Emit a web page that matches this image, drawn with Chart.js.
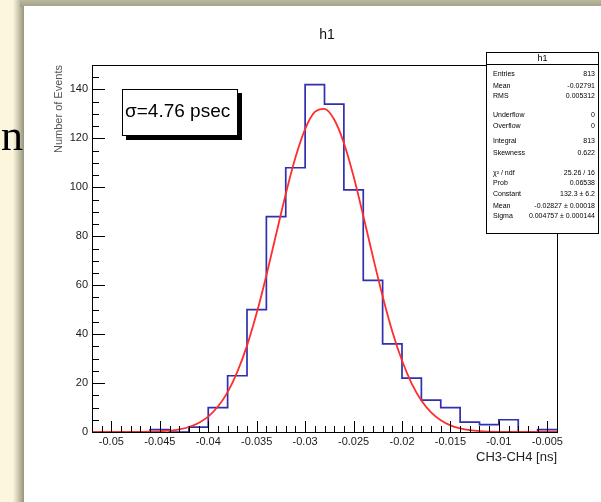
<!DOCTYPE html>
<html>
<head>
<meta charset="utf-8">
<script src="https://cdn.jsdelivr.net/npm/chart.js@4.4.1/dist/chart.umd.min.js"></script>
<style>
html,body{margin:0;padding:0;background:#fbf6dc;overflow:hidden;}
#c{display:block;}
</style>
</head>
<body>
<canvas id="c" width="601" height="502"></canvas>
<script>
// ---- data ----
const binEdges = [-0.052,-0.050,-0.048,-0.046,-0.044,-0.042,-0.040,-0.038,-0.036,-0.034,-0.032,-0.030,-0.028,-0.026,-0.024,-0.022,-0.020,-0.018,-0.016,-0.014,-0.012,-0.010,-0.008,-0.006,-0.004];
const binCounts = [0,0,0,1,0,2,10,23,50,88,108,142,134,99,62,36,22,13,10,4,3,5,0,1];

const fitX = [-0.052,-0.050,-0.048,-0.046,-0.045,-0.044,-0.043,-0.042,-0.041,-0.040,-0.039,-0.038,-0.037,-0.036,-0.035,-0.034,-0.033,-0.032,-0.031,-0.030,-0.029,-0.028,-0.027,-0.026,-0.025,-0.024,-0.023,-0.022,-0.021,-0.020,-0.019,-0.018,-0.017,-0.016,-0.015,-0.014,-0.013,-0.012,-0.010,-0.008,-0.006,-0.004];
const fitY = [0,0,0.02,0.13,0.27,0.56,1.1,2.05,3.7,6.3,10.4,16.3,24.6,35.3,48.6,64.0,80.7,97.3,112.2,123.8,130.8,132.1,127.7,118.1,104.5,88.4,71.6,55.5,41.1,29.2,19.8,12.9,8.0,4.8,2.7,1.5,0.77,0.38,0.08,0.02,0,0];

const xTickValues = [-0.05,-0.045,-0.04,-0.035,-0.03,-0.025,-0.02,-0.015,-0.01,-0.005];
const xTickLabels = ['-0.05','-0.045','-0.04','-0.035','-0.03','-0.025','-0.02','-0.015','-0.01','-0.005'];
const yTickValues = [0,20,40,60,80,100,120,140];
const yTickLabels = ['0','20','40','60','80','100','120','140'];

const histTitle = 'h1';
const xAxisTitle = 'CH3-CH4 [ns]';
const yAxisTitle = 'Number of Events';
const sigmaText = 'σ=4.76 psec';
const statsLabels = ['Entries','Mean','RMS','Underflow','Overflow','Integral','Skewness','χ² / ndf','Prob','Constant','Mean','Sigma'];
const statsValues = ['813','-0.02791','0.005312','0','0','813','0.622','25.26 / 16','0.06538','132.3 ± 6.2','-0.02827 ± 0.00018','0.004757 ± 0.000144'];
const statsRowY = [74,86,96,115.5,126,141.5,153.5,173,183.5,194.5,206,216.5];

// ---- build datasets ----
const histPoints = binCounts.map((v,i)=>({x:binEdges[i], y:v}));
histPoints.push({x:binEdges[binEdges.length-1], y:binCounts[binCounts.length-1]});
const fitPoints = fitX.map((x,i)=>({x:x, y:fitY[i]}));

const FONT = '"Liberation Sans", Arial, Helvetica, sans-serif';

const deco = {
  id: 'deco',
  beforeDraw(chart){
    const c = chart.ctx;
    c.save();
    c.fillStyle = '#fbf6dc';
    c.fillRect(0,0,601,502);
    // left shadow
    let g = c.createLinearGradient(13,0,24,0);
    g.addColorStop(0,'rgba(160,157,132,0)');
    g.addColorStop(1,'rgba(150,147,124,1)');
    c.fillStyle = g;
    c.fillRect(13,0,11,502);
    // top shadow
    g = c.createLinearGradient(0,0,0,7);
    g.addColorStop(0,'#bdb9a0');
    g.addColorStop(1,'#a19e87');
    c.fillStyle = g;
    c.fillRect(20,0,581,7);
    // white panel
    c.fillStyle = '#ffffff';
    c.fillRect(24,6,577,496);
    // slide letter at left
    c.fillStyle = '#000';
    c.font = '44px "Liberation Serif", "Times New Roman", serif';
    c.textBaseline = 'alphabetic';
    c.textAlign = 'left';
    c.fillText('n', 1, 150);
    c.restore();
  },
  afterDatasetsDraw(chart){
    const c = chart.ctx;
    const a = chart.chartArea;
    const xs = chart.scales.x, ys = chart.scales.y;
    c.save();
    // frame
    c.strokeStyle = '#000';
    c.lineWidth = 1;
    c.strokeRect(Math.round(a.left)+0.5, Math.round(a.top)+0.5, Math.round(a.right-a.left), Math.round(a.bottom-a.top));
    // y ticks (inward)
    c.beginPath();
    for (let v = 0; v <= 150; v += 5) {
      const y = Math.round(ys.getPixelForValue(v)) + 0.5;
      const len = (v % 20 === 0) ? 13 : 7;
      c.moveTo(a.left, y); c.lineTo(a.left + len, y);
    }
    // x ticks (inward)
    for (let k = -52; k <= -4; k++) {
      const v = k / 1000;
      const x = Math.round(xs.getPixelForValue(v)) + 0.5;
      const len = (k % 5 === 0) ? 11 : 6;
      c.moveTo(x, a.bottom); c.lineTo(x, a.bottom - len);
    }
    c.stroke();
    // title
    c.fillStyle = '#111';
    c.font = '14px ' + FONT;
    c.textAlign = 'center';
    c.textBaseline = 'middle';
    c.fillText(histTitle, 327, 35);
    // axis titles
    c.font = '13px ' + FONT;
    c.textAlign = 'right';
    c.fillStyle = '#222';
    c.fillText(xAxisTitle, a.right, 457);
    c.save();
    c.translate(59, a.top);
    c.rotate(-Math.PI/2);
    c.fillStyle = '#555';
    c.font = '11px ' + FONT;
    c.textAlign = 'right';
    c.textBaseline = 'middle';
    c.fillText(yAxisTitle, 0, 0);
    c.restore();
    // sigma box
    c.fillStyle = '#000';
    c.fillRect(126, 93, 116, 47);
    c.fillStyle = '#fff';
    c.fillRect(122, 89, 116, 47);
    c.strokeStyle = '#000';
    c.strokeRect(122.5, 89.5, 115, 46);
    c.fillStyle = '#000';
    c.font = '19px ' + FONT;
    c.textAlign = 'left';
    c.textBaseline = 'middle';
    c.fillText(sigmaText, 125, 112);
    // stats box
    c.fillStyle = '#fff';
    c.fillRect(486, 52, 113, 181);
    c.strokeStyle = '#000';
    c.strokeRect(486.5, 52.5, 112, 181);
    c.beginPath(); c.moveTo(486, 64.5); c.lineTo(599, 64.5); c.stroke();
    c.fillStyle = '#000';
    c.font = '9px ' + FONT;
    c.textAlign = 'center';
    c.fillText(histTitle, 542.5, 58.5);
    c.font = '7px ' + FONT;
    for (let i = 0; i < statsLabels.length; i++) {
      c.textAlign = 'left';
      c.fillText(statsLabels[i], 493, statsRowY[i]);
      c.textAlign = 'right';
      c.fillText(statsValues[i], 595, statsRowY[i]);
    }
    c.restore();
  }
};

new Chart(document.getElementById('c'), {
  type: 'line',
  data: {
    datasets: [
      {
        label: 'fit',
        data: fitPoints,
        borderColor: '#ff2d2d',
        borderWidth: 1.8,
        pointRadius: 0,
        fill: false,
        cubicInterpolationMode: 'monotone',
        clip: false
      },
      {
        label: 'h1',
        data: histPoints,
        borderColor: '#2f2fb0',
        borderWidth: 1.7,
        pointRadius: 0,
        fill: false,
        stepped: 'before',
        clip: false
      }
    ]
  },
  plugins: [deco],
  options: {
    responsive: false,
    animation: false,
    devicePixelRatio: 1,
    layout: { padding: { left: 52, top: 65, right: 44, bottom: 30 } },
    plugins: { legend: { display: false }, tooltip: { enabled: false }, title: { display: false } },
    scales: {
      x: {
        type: 'linear',
        min: -0.052, max: -0.004,
        afterFit: s => { s.height = 40; },
        afterBuildTicks: s => { s.ticks = xTickValues.map(v => ({ value: v })); },
        grid: { display: false, drawTicks: false },
        border: { display: true, color: '#000', width: 1 },
        ticks: {
          autoSkip: false, maxRotation: 0, padding: 3,
          color: '#1a1a1a',
          font: { family: FONT, size: 11 },
          callback: (v) => { const i = xTickValues.findIndex(t => Math.abs(t - v) < 1e-9); return i >= 0 ? xTickLabels[i] : ''; }
        }
      },
      y: {
        type: 'linear',
        min: 0, max: 150,
        afterFit: s => { s.width = 40; },
        afterBuildTicks: s => { s.ticks = yTickValues.map(v => ({ value: v })); },
        grid: { display: false, drawTicks: false },
        border: { display: true, color: '#000', width: 1 },
        ticks: {
          autoSkip: false, padding: 4,
          color: '#1a1a1a',
          font: { family: FONT, size: 11 },
          callback: (v) => { const i = yTickValues.indexOf(v); return i >= 0 ? yTickLabels[i] : ''; }
        }
      }
    }
  }
});
</script>
</body>
</html>
